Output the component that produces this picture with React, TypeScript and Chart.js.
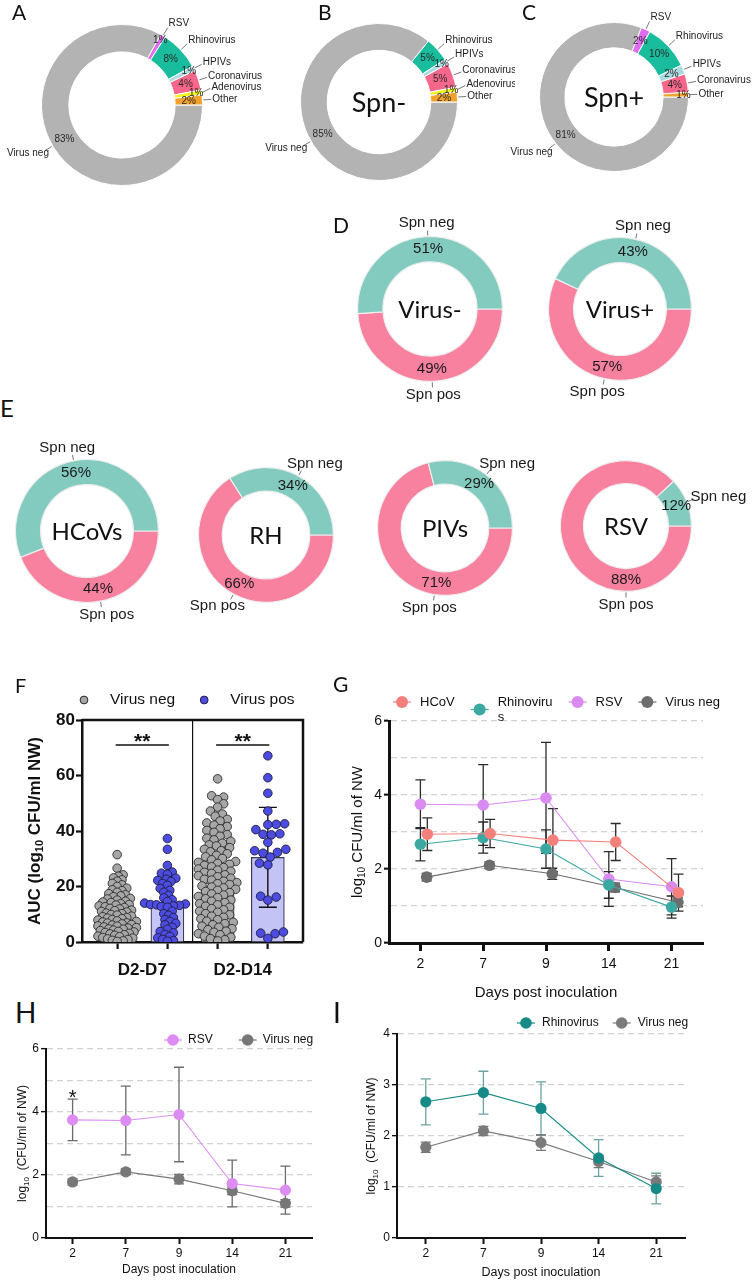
import React, { useEffect, useRef } from 'react';
import { Chart, registerables } from 'chart.js';

Chart.register(...registerables);

const SANS = "'Liberation Sans', Arial, Helvetica, sans-serif";
const HUM = "Lato, 'Open Sans', 'Noto Sans', sans-serif";

/* ================= DATA ================= */
// A–C: virus distribution (%)
const virusTypes = ['Virus neg', 'RSV', 'Rhinovirus', 'HPIVs', 'Coronavirus', 'Adenovirus', 'Other'];
const pctAll = [83, 1, 8, 1, 4, 1, 2];
const pctSpnNeg = [85, 0, 5, 1, 5, 1, 2];
const pctSpnPos = [81, 2, 10, 2, 4, 0, 1];

// D–E: Spn carriage (%)
const spnStatus = ['Spn pos', 'Spn neg'];
const pctVirusNeg = [49, 51];
const pctVirusPos = [57, 43];
const pctHCoVs = [44, 56];
const pctRH = [66, 34];
const pctPIVs = [71, 29];
const pctRSV = [88, 12];

// F: AUC (log10 CFU/ml NW)
const aucGroups = ['D2-D7', 'D2-D14'];
const aucSeries = ['Virus neg', 'Virus pos'];
const aucNegMean = [9.7, 21.3];
const aucPosMean = [14.4, 30.5];
const aucNegSD = [6.4, 12.6];
const aucPosSD = [9.3, 18.0];
const aucSig = ['**', '**'];
const aucSigY = [71, 71];
const aucNegD7 = [31.5, 26.6, 24.2, 23.7, 23.1, 22.4, 21.9, 21.1, 20.6, 20.0, 19.4, 18.8, 18.5, 17.9, 17.4, 17.0,
  16.6, 16.3, 15.7, 15.5, 15.1, 14.7, 14.4, 14.2, 13.8, 13.5, 13.3, 13.0, 12.7, 12.4, 12.1, 11.9, 11.5, 11.3, 11.0,
  10.8, 10.4, 10.2, 9.9, 9.7, 9.3, 9.1, 8.8, 8.6, 8.4, 8.1, 7.9, 7.6, 7.4, 7.2, 6.9, 6.8, 6.5, 6.3, 6.1, 5.8, 5.7,
  5.4, 5.2, 5.0, 4.7, 4.6, 4.3, 4.1, 3.8, 3.6, 3.4, 3.1, 2.9, 2.6, 2.4, 2.1, 1.9, 1.6, 1.4, 1.1, 0.9, 0.6, 0.4, 0.2];
const aucPosD7 = [37.3, 33.4, 27.6, 25.2, 24.8, 24.4, 23.0, 22.6, 22.2, 21.8, 21.1, 20.4, 19.3, 18.6, 17.9, 16.8,
  15.9, 15.2, 14.6, 14.0, 13.7, 13.5, 13.4, 13.2, 13.0, 12.8, 12.5, 11.1, 10.2, 9.6, 8.8, 8.1, 7.4, 6.7, 6.2, 5.3,
  4.6, 3.8, 3.3, 2.7, 2.0, 1.5, 0.9, 0.5, 0.3];
const aucNegD14 = [58.8, 52.7, 52.2, 51.3, 49.8, 48.6, 47.2, 46.1, 45.3, 44.2, 43.6, 42.9, 42.1, 41.6, 40.8, 40.2,
  39.5, 38.7, 38.1, 37.4, 36.8, 36.3, 35.6, 35.0, 34.6, 34.0, 33.4, 32.9, 32.5, 31.8, 31.2, 30.7, 30.1, 29.6, 29.0,
  28.7, 28.3, 28.0, 27.6, 27.1, 26.8, 26.3, 25.9, 25.5, 25.1, 24.7, 24.2, 23.9, 23.5, 23.0, 22.6, 22.3, 21.9, 21.4,
  21.0, 20.7, 20.2, 19.8, 19.5, 19.0, 18.6, 18.2, 17.8, 17.3, 16.9, 16.4, 16.0, 15.6, 15.1, 14.7, 14.2, 13.8, 13.4,
  12.9, 12.5, 12.0, 11.6, 11.1, 10.7, 10.2, 9.8, 9.3, 8.9, 8.4, 8.0, 7.5, 7.1, 6.6, 6.2, 5.7, 5.3, 4.8, 4.4, 3.9,
  3.5, 3.0, 2.6, 2.1, 1.7, 1.2, 0.8, 0.4];
const aucPosD14 = [67.1, 59.2, 53.6, 47.2, 42.6, 42.4, 42.3, 40.5, 39.0, 38.8, 38.6, 35.9, 33.4, 32.9, 32.3, 32.0,
  30.6, 28.4, 27.8, 16.5, 16.2, 15.1, 3.6, 3.2, 3.0, 1.3];

// G–I: log10 CFU/ml of NW by day
const days = ['2', '7', '9', '14', '21'];
const hcovMean = [2.94, 2.96, 2.78, 2.73, 1.36];
const hcovSD = [0.44, 0.38, 0.85, 0.5, 0.5];
const rhinoMean = [2.67, 2.85, 2.54, 1.57, 0.97];
const rhinoSD = [0.45, 0.42, 0.52, 0.36, 0.3];
const rsvMean = [3.75, 3.73, 3.92, 1.73, 1.52];
const rsvSD = [0.66, 1.09, 1.5, 0.74, 0.76];
const vnegMean = [1.78, 2.1, 1.87, 1.5, 1.1];
const vnegSD = [0.1, 0.09, 0.15, 0.12, 0.12];
const rsvSigText = ['*', '', '', '', ''];

/* ================= STYLE ================= */
const VIRUS_COLORS = ['#b3b3b3', '#e06cf0', '#19bd9d', '#a9dce2', '#f7678b', '#f3f31c', '#f1a22a'];
const SPN_COLORS = ['#f7819f', '#82cbbe'];

/* ================= PLUGINS ================= */
const donutLabels = {
  id: 'donutLabels',
  afterDatasetsDraw(chart: any, _a: any, o: any) {
    const ctx = chart.ctx;
    const meta = chart.getDatasetMeta(0);
    const values = chart.data.datasets[0].data;
    const labels = chart.data.labels;
    const outer: any[] = [];
    let cx0 = 0, cy0 = 0;
    ctx.save();
    meta.data.forEach((arc: any, i: number) => {
      const p = arc.getProps(['x', 'y', 'startAngle', 'endAngle', 'innerRadius', 'outerRadius'], true);
      cx0 = p.x; cy0 = p.y;
      const v = values[i];
      if (!v) return;
      let mid = (p.startAngle + p.endAngle) / 2;
      if (o.angles && o.angles[i] != null) mid = (o.angles[i] * Math.PI) / 180;
      const c = Math.cos(mid), s = Math.sin(mid);
      const frac = v <= o.smallValue ? o.smallFrac : 0.5;
      const rr = p.innerRadius + (p.outerRadius - p.innerRadius) * frac;
      ctx.font = o.pctFont; ctx.fillStyle = o.pctColor;
      ctx.textAlign = 'center'; ctx.textBaseline = 'middle';
      ctx.fillText(v + '%', p.x + c * rr, p.y + s * rr);
      ctx.font = o.labelFont;
      const w = ctx.measureText(labels[i]).width;
      const ra = p.outerRadius + o.leader;
      const ax = p.x + c * ra, ay = p.y + s * ra;
      let tx;
      if (o.sideAlign) tx = c >= 0 ? ax + o.gap + w / 2 : ax - o.gapLeft - w / 2;
      else tx = ax + (c * w) / 2;
      outer.push({ text: labels[i], c, s, ex: p.x + c * (p.outerRadius + 1), ey: p.y + s * (p.outerRadius + 1), ax, ay, tx, ty: ay + (s * o.h) / 2, ty0: ay + (s * o.h) / 2 });
    });
    const right = outer.filter((q) => q.c > 0.2).sort((a, b) => a.ty - b.ty);
    for (let k = right.length - 2; k >= 0; k--) {
      if (right[k].ty > right[k + 1].ty - o.minGap) right[k].ty = right[k + 1].ty - o.minGap;
    }
    outer.forEach((q) => {
      const dy = q.ty - q.ty0;
      ctx.strokeStyle = o.leaderColor; ctx.lineWidth = o.leaderWidth;
      ctx.beginPath(); ctx.moveTo(q.ex, q.ey); ctx.lineTo(q.ax, q.ay + dy); ctx.stroke();
      ctx.font = o.labelFont; ctx.fillStyle = o.labelColor;
      ctx.textAlign = 'center'; ctx.textBaseline = 'middle';
      ctx.fillText(q.text, q.tx, q.ty);
    });
    if (o.center) {
      ctx.font = o.centerFont; ctx.fillStyle = '#111';
      ctx.textAlign = 'center'; ctx.textBaseline = 'middle';
      ctx.fillText(o.center, cx0, cy0 + (o.centerDy || 0));
    }
    ctx.restore();
  },
};

function drawErrorBars(chart: any, i: number) {
  const ds = chart.data.datasets[i];
  if (!ds.errorBars) return;
  const meta = chart.getDatasetMeta(i);
  const ys = chart.scales[meta.yAxisID];
  const ctx = chart.ctx;
  ctx.save();
  ctx.strokeStyle = ds.errorColor; ctx.lineWidth = ds.errorWidth;
  meta.data.forEach((el: any, j: number) => {
    const sd = ds.errorBars[j];
    if (sd == null) return;
    const v = ds.data[j].y;
    const x = el.x;
    const y1 = ys.getPixelForValue(v + sd), y2 = ys.getPixelForValue(Math.max(0, v - sd));
    ctx.beginPath();
    ctx.moveTo(x, y1); ctx.lineTo(x, y2);
    ctx.moveTo(x - ds.errorCap, y1); ctx.lineTo(x + ds.errorCap, y1);
    ctx.moveTo(x - ds.errorCap, y2); ctx.lineTo(x + ds.errorCap, y2);
    ctx.stroke();
  });
  ctx.restore();
}

const errorBars = {
  id: 'errorBars',
  beforeDatasetsDraw(chart: any, _a: any, o: any) {
    if (o && o.layer === 'before') chart.data.datasets.forEach((_d: any, i: number) => drawErrorBars(chart, i));
  },
  afterDatasetDraw(chart: any, args: any, o: any) {
    if (o && o.layer === 'after') drawErrorBars(chart, args.index);
  },
};

const customLegend = {
  id: 'customLegend',
  afterDraw(chart: any, _a: any, o: any) {
    if (!o || !o.items) return;
    const ctx = chart.ctx, ca = chart.chartArea;
    ctx.save();
    ctx.font = o.font;
    let cx = ca.left + o.x0;
    const y = ca.top + o.y;
    o.items.forEach((it: any) => {
      const my = y + ((it.lines.length - 1) * o.lineHeight) / 2;
      if (o.lineHalf) {
        ctx.strokeStyle = it.fill; ctx.lineWidth = 1.2;
        ctx.beginPath(); ctx.moveTo(cx - o.lineHalf, my); ctx.lineTo(cx + o.lineHalf, my); ctx.stroke();
      }
      ctx.beginPath(); ctx.arc(cx, my, o.markerR, 0, Math.PI * 2);
      ctx.fillStyle = it.fill; ctx.fill();
      if (it.stroke) { ctx.strokeStyle = it.stroke; ctx.lineWidth = 1; ctx.stroke(); }
      ctx.fillStyle = '#111'; ctx.textAlign = 'left'; ctx.textBaseline = 'middle';
      let maxW = 0;
      it.lines.forEach((t: string, k: number) => {
        ctx.fillText(t, cx + o.textGap, y + k * o.lineHeight);
        maxW = Math.max(maxW, ctx.measureText(t).width);
      });
      cx = cx + o.textGap + maxW + o.itemGap;
    });
    ctx.restore();
  },
};

const yTitle = {
  id: 'yTitle',
  afterDraw(chart: any, _a: any, o: any) {
    if (!o || !o.parts) return;
    const ctx = chart.ctx, ca = chart.chartArea;
    ctx.save();
    ctx.translate(ca.left - o.offset, (ca.top + ca.bottom) / 2);
    ctx.rotate(-Math.PI / 2);
    const main = `${o.weight} ${o.size}px ${SANS}`;
    const sub = `${o.weight} ${Math.round(o.size * 0.66)}px ${SANS}`;
    let total = 0;
    o.parts.forEach((p: any) => { ctx.font = p.sub ? sub : main; total += ctx.measureText(p.t).width; });
    let x = -total / 2;
    ctx.fillStyle = '#111'; ctx.textAlign = 'left'; ctx.textBaseline = 'middle';
    o.parts.forEach((p: any) => {
      ctx.font = p.sub ? sub : main;
      ctx.fillText(p.t, x, p.sub ? o.size * 0.3 : 0);
      x += ctx.measureText(p.t).width;
    });
    ctx.restore();
  },
};

const sigMarks = {
  id: 'sigMarks',
  afterDatasetsDraw(chart: any, _a: any, o: any) {
    if (!o || !o.items) return;
    const ctx = chart.ctx, xs = chart.scales.x, ys = chart.scales.y;
    ctx.save();
    o.items.forEach((it: any) => {
      if (!it.text) return;
      const py = ys.getPixelForValue(it.y);
      let px;
      if (it.x1 != null) {
        const a = xs.getPixelForValue(it.x1), b = xs.getPixelForValue(it.x2);
        ctx.strokeStyle = '#111'; ctx.lineWidth = 1.3;
        ctx.beginPath(); ctx.moveTo(a, py); ctx.lineTo(b, py); ctx.stroke();
        px = (a + b) / 2;
      } else px = xs.getPixelForValue(it.x);
      ctx.font = it.font; ctx.fillStyle = '#111'; ctx.textAlign = 'center'; ctx.textBaseline = 'alphabetic';
      ctx.fillText(it.text, px, py + it.dy);
    });
    ctx.restore();
  },
};

const frame = {
  id: 'frame',
  afterDraw(chart: any, _a: any, o: any) {
    if (!o || !o.width) return;
    const ctx = chart.ctx, ca = chart.chartArea;
    ctx.save();
    ctx.strokeStyle = '#111'; ctx.lineWidth = o.width;
    ctx.beginPath(); ctx.moveTo(ca.left, ca.top); ctx.lineTo(ca.right, ca.top); ctx.lineTo(ca.right, ca.bottom); ctx.stroke();
    ctx.restore();
  },
};

/* ================= HELPERS ================= */
function ChartBox({ box, make, after }: any) {
  const ref = useRef<HTMLCanvasElement>(null);
  useEffect(() => {
    const chart = new Chart(ref.current as any, make());
    if (after) after(chart);
    return () => chart.destroy();
  }, []);
  const [left, top, width, height] = box;
  return (
    <div style={{ position: 'absolute', left, top, width, height }}>
      <canvas ref={ref} />
    </div>
  );
}

function ringPad(cx: number, cy: number, r: number, box: number[]) {
  return { left: cx - r - box[0], top: cy - r - box[1], right: box[0] + box[2] - cx - r, bottom: box[1] + box[3] - cy - r };
}

function donutConfig(labels: string[], values: number[], colors: string[], padding: any, lab: any) {
  return {
    type: 'doughnut',
    data: { labels, datasets: [{ data: values, backgroundColor: colors, borderColor: lab.border, borderWidth: lab.borderWidth }] },
    options: {
      responsive: true, maintainAspectRatio: false, animation: false, events: [],
      rotation: 90, cutout: lab.cutout,
      layout: { padding },
      plugins: { legend: { display: false }, tooltip: { enabled: false }, donutLabels: lab },
    },
    plugins: [donutLabels],
  };
}

const smallDonut = (center?: string, angles?: any[]) => ({
  pctFont: `10px ${SANS}`, labelFont: `10px ${SANS}`, pctColor: '#2a2a2a', labelColor: '#222',
  leader: 9, gap: 1, gapLeft: -4, h: 10, minGap: 11.5, smallValue: 1, smallFrac: 0.8, leaderColor: '#555', leaderWidth: 0.8,
  sideAlign: true, border: '#ffffff', borderWidth: 1, cutout: '66%', angles,
  center, centerFont: `27px ${HUM}`, centerDy: 1,
});

const spnDonut = (center: string, angles?: any[]) => ({
  pctFont: `15px ${SANS}`, labelFont: `15px ${SANS}`, pctColor: '#1a1a1a', labelColor: '#1a1a1a',
  leader: 6, gap: 0, gapLeft: 0, h: 15, minGap: 0, smallValue: -1, smallFrac: 0.5, leaderColor: '#666', leaderWidth: 0.9,
  sideAlign: false, border: '#eeeeee', borderWidth: 1.2, cutout: '65%', angles,
  center, centerFont: `24px ${HUM}`, centerDy: 1,
});

function Donut({ box, cx, cy, r, labels, values, colors, lab }: any) {
  return <ChartBox box={box} make={() => donutConfig(labels, values, colors, ringPad(cx, cy, r, box), lab)} />;
}

/* ---------- Panel F ---------- */
function aucConfig() {
  const barData: any[] = [], barBg: string[] = [], barBorder: string[] = [], barErr: number[] = [];
  const negPts: any[] = [], posPts: any[] = [];
  const negVals = [aucNegD7, aucNegD14], posVals = [aucPosD7, aucPosD14];
  aucGroups.forEach((_g, gi) => {
    barData.push({ x: 1 + 2 * gi, y: aucNegMean[gi] }, { x: 2 + 2 * gi, y: aucPosMean[gi] });
    barBg.push('#e8e8e8', '#c3c3f6');
    barBorder.push('#3a3a3a', '#3a3a55');
    barErr.push(aucNegSD[gi], aucPosSD[gi]);
    negVals[gi].forEach((v) => negPts.push({ x: 1 + 2 * gi, y: v, g: 1 + 2 * gi }));
    posVals[gi].forEach((v) => posPts.push({ x: 2 + 2 * gi, y: v, g: 2 + 2 * gi }));
  });
  const tickVals = [1, 1.5, 2, 2.5, 3, 3.5, 4];
  return {
    type: 'scatter',
    data: {
      datasets: [
        { type: 'bar', data: barData, backgroundColor: barBg, borderColor: barBorder, borderWidth: 1.2, barThickness: 33, order: 3,
          errorBars: barErr, errorColor: '#111', errorWidth: 1.4, errorCap: 9 },
        { type: 'scatter', label: aucSeries[0], data: negPts, pointRadius: 4.3, pointBackgroundColor: '#a7a7a7', pointBorderColor: '#2a2a2a', pointBorderWidth: 0.9, order: 2 },
        { type: 'scatter', label: aucSeries[1], data: posPts, pointRadius: 4.3, pointBackgroundColor: '#4c4ce2', pointBorderColor: '#1e1e3a', pointBorderWidth: 0.9, order: 1 },
      ],
    },
    options: {
      responsive: true, maintainAspectRatio: false, animation: false, events: [],
      layout: { padding: { left: 0, top: 50, right: 27, bottom: 0 } },
      scales: {
        x: {
          type: 'linear', min: 0.3, max: 4.7, offset: false,
          afterBuildTicks: (s: any) => { s.ticks = tickVals.map((v) => ({ value: v })); },
          afterFit: (s: any) => { s.height = 48; },
          ticks: {
            autoSkip: false, maxRotation: 0, padding: 11, color: '#111',
            font: { family: SANS, size: 17, weight: 'bold' },
            callback: (v: number) => { const gi = aucGroups.findIndex((_g, k) => 1.5 + 2 * k === v); return gi >= 0 ? aucGroups[gi] : ''; },
          },
          grid: {
            offset: false, drawOnChartArea: true, drawTicks: true, tickLength: 7, tickWidth: 2.2,
            color: (c: any) => (c.tick && c.tick.value === 2.5 ? '#111' : 'rgba(0,0,0,0)'),
            lineWidth: 1.2,
            tickColor: (c: any) => (c.tick && Number.isInteger(c.tick.value) ? '#111' : 'rgba(0,0,0,0)'),
          },
          border: { display: true, width: 2.5, color: '#111' },
        },
        y: {
          min: 0, max: 80,
          afterFit: (s: any) => { s.width = 82; },
          ticks: { stepSize: 20, padding: 1, color: '#111', font: { family: SANS, size: 17, weight: 'bold' } },
          grid: { drawOnChartArea: false, drawTicks: true, tickLength: 6, tickWidth: 2.2, tickColor: '#111' },
          border: { display: true, width: 2.5, color: '#111' },
        },
      },
      plugins: {
        legend: { display: false }, tooltip: { enabled: false },
        errorBars: { layer: 'after' },
        frame: { width: 2.5 },
        customLegend: {
          items: [
            { lines: [aucSeries[0]], fill: '#a7a7a7', stroke: '#2a2a2a' },
            { lines: [aucSeries[1]], fill: '#4c4ce2', stroke: '#1e1e3a' },
          ],
          x0: 2, y: -20, textGap: 26, itemGap: 29, font: `15.5px ${SANS}`, markerR: 3.9, lineHalf: 0, lineHeight: 16,
        },
        yTitle: { parts: [{ t: 'AUC (log' }, { t: '10', sub: true }, { t: ' CFU/ml NW)' }], size: 17, weight: 'bold', offset: 47 },
        sigMarks: {
          items: aucGroups.map((_g, gi) => ({ x1: 1.5 + 2 * gi - 0.53, x2: 1.5 + 2 * gi + 0.53, y: aucSigY[gi], text: aucSig[gi], font: `bold 21px ${SANS}`, dy: 3 })),
        },
      },
    },
    plugins: [errorBars, frame, customLegend, yTitle, sigMarks],
  };
}

function applySwarm(chart: any) {
  const xs = chart.scales.x, ys = chart.scales.y;
  const pxX = xs.getPixelForValue(1) - xs.getPixelForValue(0);
  const pxY = ys.getPixelForValue(0) - ys.getPixelForValue(1);
  const minDist: any = { 1: 4.9, 2: 5.0, 3: 6.4, 4: 8.0 };
  [1, 2].forEach((di) => {
    const pts = chart.data.datasets[di].data;
    const groups: any = {};
    pts.forEach((p: any, i: number) => { (groups[p.g] = groups[p.g] || []).push(i); });
    Object.keys(groups).forEach((g) => {
      const idx = groups[g].slice().sort((a: number, b: number) => pts[a].y - pts[b].y);
      const md = minDist[g];
      const placed: any[] = [];
      idx.forEach((i: number, n: number) => {
        const y = pts[i].y * pxY;
        let off = 0;
        for (let k = 0; k < 400; k++) {
          const step = Math.ceil(k / 2) * 1.2;
          const sign = (k + n) % 2 === 0 ? 1 : -1;
          const cand = k === 0 ? 0 : sign * step;
          let ok = true;
          for (const q of placed) {
            if (Math.abs(q.y - y) < md && (q.x - cand) * (q.x - cand) + (q.y - y) * (q.y - y) < md * md) { ok = false; break; }
          }
          if (ok) { off = cand; break; }
        }
        placed.push({ x: off, y });
        pts[i].x = Number(g) + off / pxX;
      });
    });
  });
  chart.update('none');
}

/* ---------- Panels G–I ---------- */
function lineConfig(p: any) {
  const yTicks: number[] = [];
  for (let v = 0; v <= p.yMax; v++) yTicks.push(v);
  const tickFont = { family: SANS, size: p.tickSize };
  return {
    type: 'line',
    data: {
      datasets: p.series.map((s: any) => ({
        label: s.name,
        data: s.mean.map((v: number, i: number) => ({ x: i + s.dx, y: v })),
        borderColor: s.color, borderWidth: 1.1, pointRadius: p.pointR, pointBackgroundColor: s.color,
        pointBorderColor: s.color, pointBorderWidth: 0, fill: false, tension: 0,
        errorBars: s.sd, errorColor: s.errColor, errorWidth: 1.3, errorCap: 5,
      })),
    },
    options: {
      responsive: true, maintainAspectRatio: false, animation: false, events: [],
      layout: { padding: { left: 0, top: p.padTop, right: p.padRight, bottom: 0 } },
      scales: {
        x: {
          type: 'linear', min: -0.5, max: days.length - 0.5, offset: false,
          afterBuildTicks: (s: any) => { s.ticks = days.map((_d, i) => ({ value: i })); },
          afterFit: (s: any) => { s.height = p.xHeight; },
          ticks: { autoSkip: false, maxRotation: 0, padding: p.xTickPad, color: '#111', font: tickFont, callback: (v: number) => days[v] ?? '' },
          grid: { drawOnChartArea: false, drawTicks: true, tickLength: p.xTickLen, tickWidth: p.axisW, tickColor: '#111' },
          border: { display: true, width: p.axisW, color: '#111' },
          title: { display: true, text: 'Days post inoculation', color: '#111', font: { family: SANS, size: p.xTitleSize }, padding: { top: 0, bottom: p.xTitlePad } },
        },
        y: {
          min: 0, max: p.yMax,
          afterBuildTicks: (s: any) => { s.ticks = yTicks.map((v) => ({ value: v })); },
          afterFit: (s: any) => { s.width = p.yWidth; },
          ticks: { padding: 2, color: '#111', font: tickFont, callback: (v: number) => (v % p.labelEvery === 0 ? String(v) : '') },
          grid: {
            drawOnChartArea: true, drawTicks: true, tickLength: 5, tickWidth: p.axisW * 0.7,
            color: (c: any) => (c.tick && c.tick.value > 0 ? '#d2d2d2' : 'rgba(0,0,0,0)'), lineWidth: 1.3,
            tickColor: (c: any) => (c.tick && c.tick.value % p.labelEvery === 0 ? '#111' : 'rgba(0,0,0,0)'),
          },
          border: { display: true, width: p.axisW, color: '#111', dash: (c: any) => (c.type === 'tick' ? [6, 4] : []) },
        },
      },
      plugins: {
        legend: { display: false }, tooltip: { enabled: false },
        errorBars: { layer: 'before' },
        customLegend: p.legend,
        yTitle: p.yTitle,
        sigMarks: p.sig || {},
      },
    },
    plugins: [errorBars, customLegend, yTitle, sigMarks],
  };
}

const gConfig = () =>
  lineConfig({
    series: [
      { name: 'HCoV', mean: hcovMean, sd: hcovSD, color: '#f4807c', errColor: '#2b2b2b', dx: 0.11 },
      { name: 'Rhinovirus', mean: rhinoMean, sd: rhinoSD, color: '#3ba8a1', errColor: '#2b2b2b', dx: 0 },
      { name: 'RSV', mean: rsvMean, sd: rsvSD, color: '#d98bf1', errColor: '#2b2b2b', dx: 0 },
      { name: 'Virus neg', mean: vnegMean, sd: vnegSD, color: '#6d6d6d', errColor: '#2b2b2b', dx: 0.1 },
    ],
    yMax: 6, labelEvery: 2, padTop: 51, padRight: 50, yWidth: 59, xHeight: 67, tickSize: 14, xTickPad: 5, xTickLen: 8,
    axisW: 3, xTitleSize: 15, xTitlePad: 8, pointR: 5.8,
    legend: {
      items: [
        { lines: ['HCoV'], fill: '#f4807c' }, { lines: ['Rhinoviru', 's'], fill: '#3ba8a1' },
        { lines: ['RSV'], fill: '#d98bf1' }, { lines: ['Virus neg'], fill: '#6d6d6d' },
      ],
      x0: 13, y: -19, textGap: 18, itemGap: 25, font: `13px ${SANS}`, markerR: 6, lineHalf: 9, lineHeight: 15,
    },
    yTitle: { parts: [{ t: 'log' }, { t: '10', sub: true }, { t: ' CFU/ml of NW' }], size: 15, weight: 'normal', offset: 31 },
  });

const hConfig = () =>
  lineConfig({
    series: [
      { name: 'RSV', mean: rsvMean, sd: rsvSD, color: '#dc8cf2', errColor: '#6b6b6b', dx: 0 },
      { name: 'Virus neg', mean: vnegMean, sd: vnegSD, color: '#777777', errColor: '#6b6b6b', dx: 0 },
    ],
    yMax: 6, labelEvery: 2, padTop: 19, padRight: 18, yWidth: 46, xHeight: 42, tickSize: 12, xTickPad: 2, xTickLen: 6,
    axisW: 2, xTitleSize: 12, xTitlePad: 3, pointR: 5.6,
    legend: {
      items: [{ lines: ['RSV'], fill: '#dc8cf2' }, { lines: ['Virus neg'], fill: '#777777' }],
      x0: 127, y: -9, textGap: 15, itemGap: 35, font: `12px ${SANS}`, markerR: 5.8, lineHalf: 9, lineHeight: 14,
    },
    yTitle: { parts: [{ t: 'log' }, { t: '10', sub: true }, { t: '  (CFU/ml of NW)' }], size: 12, weight: 'normal', offset: 23 },
    sig: { items: rsvSigText.map((t, i) => ({ x: i, y: rsvMean[i] + rsvSD[i], text: t, font: `20px ${SANS}`, dy: 5 })) },
  });

const iConfig = () =>
  lineConfig({
    series: [
      { name: 'Rhinovirus', mean: rhinoMean, sd: rhinoSD, color: '#168a86', errColor: '#6aa3a0', dx: 0 },
      { name: 'Virus neg', mean: vnegMean, sd: vnegSD, color: '#7a7a7a', errColor: '#777777', dx: 0 },
    ],
    yMax: 4, labelEvery: 1, padTop: 24, padRight: 68, yWidth: 37, xHeight: 42, tickSize: 12, xTickPad: 2, xTickLen: 6,
    axisW: 2, xTitleSize: 12.5, xTitlePad: 0, pointR: 5.6,
    legend: {
      items: [{ lines: ['Rhinovirus'], fill: '#168a86' }, { lines: ['Virus neg'], fill: '#7a7a7a' }],
      x0: 129, y: -11, textGap: 16, itemGap: 23, font: `12px ${SANS}`, markerR: 5.8, lineHalf: 9, lineHeight: 14,
    },
    yTitle: { parts: [{ t: 'log' }, { t: '10', sub: true }, { t: '  (CFU/ml of NW)' }], size: 12, weight: 'normal', offset: 25 },
  });

function Letter({ ch, x, capTop, size }: any) {
  return (
    <div style={{ position: 'absolute', left: x, top: capTop - 0.17 * size, fontFamily: HUM, fontSize: size, lineHeight: 1, color: '#111' }}>
      {ch}
    </div>
  );
}

export default function App() {
  return (
    <div style={{ position: 'absolute', left: 0, top: 0, width: 753, height: 1280, background: '#fff', overflow: 'hidden' }}>
      <Donut box={[0, 10, 265, 185]} cx={122} cy={105} r={81} labels={virusTypes} values={pctAll} colors={VIRUS_COLORS} lab={smallDonut()} />
      <Donut box={[240, 10, 275, 185]} cx={379} cy={102} r={79} labels={virusTypes} values={pctSpnNeg} colors={VIRUS_COLORS} lab={smallDonut('Spn-', [150])} />
      <Donut box={[490, 5, 263, 190]} cx={614} cy={97} r={75} labels={virusTypes} values={pctSpnPos} colors={VIRUS_COLORS} lab={smallDonut('Spn+', [141.5])} />

      <Donut box={[340, 200, 180, 210]} cx={430} cy={309} r={73} labels={spnStatus} values={pctVirusNeg} colors={SPN_COLORS} lab={spnDonut('Virus-')} />
      <Donut box={[530, 200, 180, 210]} cx={620} cy={309} r={72} labels={spnStatus} values={pctVirusPos} colors={SPN_COLORS} lab={spnDonut('Virus+')} />

      <Donut box={[0, 430, 180, 200]} cx={87} cy={531} r={72} labels={spnStatus} values={pctHCoVs} colors={SPN_COLORS} lab={spnDonut('HCoVs')} />
      <Donut box={[180, 430, 180, 200]} cx={266} cy={535} r={68} labels={spnStatus} values={pctRH} colors={SPN_COLORS} lab={spnDonut('RH')} />
      <Donut box={[360, 430, 200, 200]} cx={445} cy={528} r={68} labels={spnStatus} values={pctPIVs} colors={SPN_COLORS} lab={spnDonut('PIVs', [99, null])} />
      <Donut box={[553, 430, 200, 200]} cx={626} cy={526} r={66} labels={spnStatus} values={pctRSV} colors={SPN_COLORS} lab={spnDonut('RSV', [90, null])} />

      <ChartBox box={[0, 670, 330, 320]} make={aucConfig} after={applySwarm} />
      <ChartBox box={[330, 670, 423, 340]} make={gConfig} />
      <ChartBox box={[0, 1030, 330, 250]} make={hConfig} />
      <ChartBox box={[360, 1010, 393, 270]} make={iConfig} />

      <Letter ch="A" x={12} capTop={5} size={21} />
      <Letter ch="B" x={318} capTop={5} size={21} />
      <Letter ch="C" x={522} capTop={5} size={21} />
      <Letter ch="D" x={333} capTop={218} size={21} />
      <Letter ch="E" x={0} capTop={400} size={24} />
      <Letter ch="F" x={15} capTop={678} size={20} />
      <Letter ch="G" x={333} capTop={677} size={21} />
      <Letter ch="H" x={15} capTop={1003} size={28} />
      <Letter ch="I" x={333} capTop={1003} size={28} />
    </div>
  );
}
